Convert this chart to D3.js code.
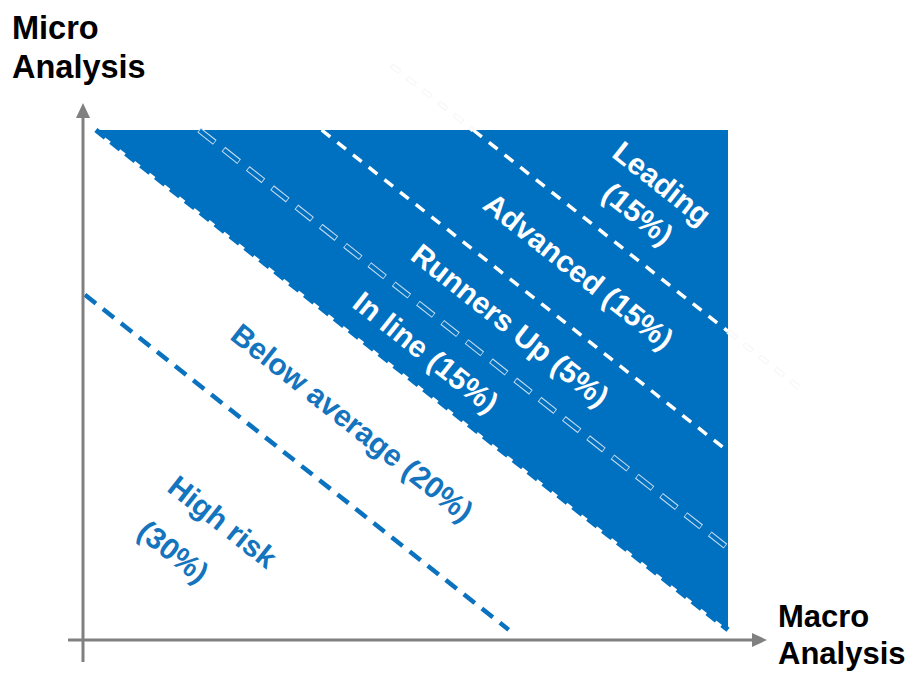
<!DOCTYPE html>
<html><head><meta charset="utf-8">
<script src="https://cdn.jsdelivr.net/npm/d3@7"></script>
<style>
html,body{margin:0;padding:0;background:#fff;}
svg{display:block;font-family:"Liberation Sans",Arial,sans-serif;}
</style></head>
<body>
<svg id="chart" width="913" height="673"></svg>
<script>
// ---- data ----
const zoneNames  = ["High risk", "Below average", "In line", "Runners Up", "Advanced", "Leading"];
const zoneShares = [30, 20, 15, 5, 15, 15];
// boundaries between zones, expressed as (macro + micro) score thresholds
const zoneBounds = [68, 102, 118, 137, 160.5];
const axisTitles = { y: ["Micro", "Analysis"], x: ["Macro", "Analysis"] };

// ---- layout ----
const svg = d3.select("#chart");
const x = d3.scaleLinear().domain([0, 100]).range([83, 728]);
const y = d3.scaleLinear().domain([0, 100]).range([640, 130]);
const floorY = 2;        // bottom of shaded area (score units)
const blue = "#0070C0";
const angle = Math.atan2(y(0) - y(1), x(1) - x(0)) * 180 / Math.PI;

// segment of line x+y=c clipped to [x0,100]x[y0,y1]
function seg(c, x0, y0, y1) {
  let xa = Math.max(x0, c - y1), xb = Math.min(100, c - y0);
  return [[xa, c - xa], [xb, c - xb]];
}
const line = d3.line().x(d => x(d[0])).y(d => y(d[1]));

// shaded region: score >= zoneBounds[1]
const c1 = zoneBounds[1];
const poly = [[c1 - 100, 100], [100, 100], [100, c1 - 100]];
svg.append("path").attr("d", line(poly) + "Z").attr("fill", blue);

// dashed border on the lower edge of the shaded area
svg.append("path").attr("d", line(seg(c1, 0, floorY, 100)))
  .attr("stroke", blue).attr("stroke-width", 5).attr("fill", "none")
  .attr("stroke-dasharray", "12 7");

// faint extensions outside the shaded area (leading line)
const c5 = zoneBounds[4];
const extUp = [[c5 - 112.7, 112.7], [c5 - 100, 100]];
const extRight = [[100, c5 - 100], [111, c5 - 111]];
[extUp, extRight].forEach(s => {
  svg.append("path").attr("d", line(s)).attr("stroke", "#f6f6f6").attr("stroke-width", 5)
    .attr("fill", "none").attr("stroke-dasharray", "11 9");
  svg.append("path").attr("d", line(s)).attr("stroke", "#fff").attr("stroke-width", 3)
    .attr("fill", "none").attr("stroke-dasharray", "9 11").attr("stroke-dashoffset", -1);
});

// High risk / Below average boundary (blue dashed on white)
svg.append("path").attr("d", line(seg(zoneBounds[0], 0.3, floorY, 100)))
  .attr("stroke", "#0A72BF").attr("stroke-width", 4.5).attr("fill", "none")
  .attr("stroke-dasharray", "14 9");

// In line / Runners Up boundary (outlined dashes)
const s2 = seg(zoneBounds[2], 0, floorY, 100);
svg.append("path").attr("d", line(s2)).attr("stroke", "#c4dcf0").attr("stroke-width", 6)
  .attr("fill", "none").attr("stroke-dasharray", "20 11");
svg.append("path").attr("d", line(s2)).attr("stroke", blue).attr("stroke-width", 3.8)
  .attr("fill", "none").attr("stroke-dasharray", "18.4 12.6").attr("stroke-dashoffset", -0.8);

// Runners Up / Advanced and Advanced / Leading boundaries (white dashed)
[zoneBounds[3], zoneBounds[4]].forEach(c => {
  svg.append("path").attr("d", line(seg(c, 0, floorY, 100)))
    .attr("stroke", "#fff").attr("stroke-width", 3.5).attr("fill", "none")
    .attr("stroke-dasharray", "11 9");
});

// ---- axes ----
const axisCol = "#808080";
svg.append("line").attr("x1", x(0)).attr("x2", x(0)).attr("y1", 662).attr("y2", 114)
  .attr("stroke", axisCol).attr("stroke-width", 3);
svg.append("path").attr("d", `M${x(0)},103 L${x(0) - 7},118 L${x(0) + 7},118 Z`).attr("fill", axisCol);
svg.append("line").attr("x1", 68).attr("x2", 755).attr("y1", y(0)).attr("y2", y(0))
  .attr("stroke", axisCol).attr("stroke-width", 3);
svg.append("path").attr("d", `M767,${y(0)} L752,${y(0) - 7} L752,${y(0) + 7} Z`).attr("fill", axisCol);

// axis titles
function title(lines, tx, ty, lh, fs) {
  const t = svg.append("text").attr("font-size", fs).attr("font-weight", "bold").attr("fill", "#000");
  lines.forEach((s, i) => t.append("tspan").attr("x", tx).attr("y", ty + i * lh).text(s));
}
title(axisTitles.y, 12, 39, 39, 32.5);
title(axisTitles.x, 778, 627, 37, 31);

// ---- zone labels ----
// label anchors in score units: [macro, micro]
const labelPos = [[18.6, 19.6], [41.8, 42.7], [53.2, 56.5], [66.3, 61.8], [76.9, 72.4], [88, 86.7]];
const twoLine = [true, false, false, false, false, true];
zoneNames.forEach((name, i) => {
  const px = x(labelPos[i][0]), py = y(labelPos[i][1]);
  const onBlue = i >= 2;
  const g = svg.append("g").attr("transform", `translate(${px},${py}) rotate(${angle})`);
  const t = g.append("text").attr("font-size", 30).attr("font-weight", "bold")
    .attr("fill", onBlue ? "#fff" : "#1474BD");
  const pct = `(${zoneShares[i]}%)`;
  if (twoLine[i]) {
    if (i === 0) {
      t.attr("text-anchor", "start");
      t.append("tspan").attr("x", -60).attr("y", -16).text(name);
      t.append("tspan").attr("x", -56).attr("y", 38).text(pct);
    } else {
      t.attr("text-anchor", "middle");
      t.append("tspan").attr("x", 0).attr("y", -8).text(name);
      t.append("tspan").attr("x", 0).attr("y", 31).text(pct);
    }
  } else {
    t.attr("text-anchor", "middle").attr("y", 11).text(`${name} ${pct}`);
  }
});
</script>
</body></html>
